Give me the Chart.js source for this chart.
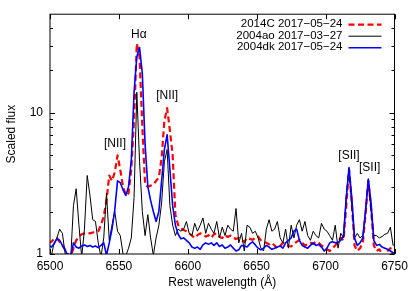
<!DOCTYPE html>
<html lang="en">
<head>
<meta charset="UTF-8">
<title>Scaled flux</title>
<script src="https://cdn.jsdelivr.net/npm/chart.js"></script>
<style>
  html, body { margin: 0; padding: 0; background: #fff; }
  canvas { display: block; }
</style>
</head>
<body>
<canvas id="spec" width="415" height="291"></canvas>
<script>
// rest wavelength grid (Angstrom)
const wavelength = [
  6499, 6501, 6503, 6505, 6507, 6509, 6511, 6513, 6515, 6517,
  6519, 6521, 6523, 6525, 6527, 6529, 6531, 6533, 6535, 6537,
  6539, 6541, 6543, 6545, 6547, 6549, 6551, 6553, 6555, 6557,
  6559, 6561, 6563, 6565, 6567, 6569, 6571, 6573, 6575, 6577,
  6579, 6581, 6583, 6585, 6587, 6589, 6591, 6593, 6595, 6597,
  6599, 6601, 6603, 6605, 6607, 6609, 6611, 6613, 6615, 6617,
  6619, 6621, 6623, 6625, 6627, 6629, 6631, 6633, 6635, 6637,
  6639, 6641, 6643, 6645, 6647, 6649, 6651, 6653, 6655, 6657,
  6659, 6661, 6663, 6665, 6667, 6669, 6671, 6673, 6675, 6677,
  6679, 6681, 6683, 6685, 6687, 6689, 6691, 6693, 6695, 6697,
  6699, 6701, 6703, 6705, 6707, 6709, 6711, 6713, 6715, 6717,
  6719, 6721, 6723, 6725, 6727, 6729, 6731, 6733, 6735, 6737,
  6739, 6741, 6743, 6745, 6747, 6749, 6751
];

// 2014C 2017-05-24
const flux2014C = [
  1.2, 1.22, 1.28, 1.3, 1.22, 1.15, 1.07, 1.0, 0.95, 1.1,
  1.25, 1.33, 1.38, 1.4, 1.41, 1.4, 1.42, 1.43, 1.45, 1.6,
  1.85, 2.4, 3.6, 3.3, 3.8, 5.0, 3.95, 3.0, 2.6, 2.7,
  4.0, 9.0, 31, 25, 8, 3.1, 3.0, 3.05, 3.1, 3.3,
  3.5, 4.8, 8.8, 10.8, 7.5, 5.0, 1.9, 1.6, 1.52, 1.48,
  1.45, 1.4, 1.35, 1.3, 1.36, 1.4, 1.38, 1.33, 1.36, 1.3,
  1.38, 1.4, 1.32, 1.3, 1.36, 1.32, 1.35, 1.3, 1.28, 1.3,
  1.25, 1.22, 1.3, 1.28, 1.26, 1.3, 1.33, 1.25, 1.22, 1.2,
  1.17, 1.2, 1.15, 1.1, 1.14, 1.2, 1.17, 1.14, 1.13, 1.18,
  1.22, 1.26, 1.2, 1.15, 1.17, 1.2, 1.18, 1.22, 1.2, 1.15,
  1.12, 1.08, 1.05, 1.1, 1.15, 1.22, 1.3, 1.25, 2.2, 4.0,
  2.3, 1.15, 1.05, 1.1, 1.2, 1.9, 3.3, 2.1, 1.15, 1.05,
  1.08, 1.0, 0.95, 1.05, 1.1, 0.95, 1.0
];

// 2004ao 2017-03-27
const flux2004ao = [
  1.1, 0.97, 1.2, 1.3, 1.5, 1.4, 1.0, 0.9, 0.92, 2.2,
  2.9, 1.6, 0.95, 1.5, 3.6, 2.6, 1.75, 1.7, 1.2, 0.95,
  1.3, 2.7, 1.25, 1.6, 2.0, 1.45, 1.35, 1.0, 0.97, 1.1,
  1.3, 2.5, 14, 4.5, 2.0, 1.35, 1.9, 1.3, 0.98, 1.3,
  1.6, 2.3, 4.5, 5.5, 2.2, 1.6, 1.35, 1.5, 1.45, 1.5,
  1.7, 1.4, 1.35, 1.65, 1.45, 1.6, 1.8, 1.4, 1.65, 1.5,
  1.4, 1.7, 1.3, 1.55, 1.35, 1.6, 1.5, 1.45, 2.1, 1.2,
  1.4, 1.05, 1.6, 1.55, 1.4, 1.45, 1.3, 1.1, 1.05, 1.5,
  1.75, 1.45, 1.5, 1.7, 1.3, 1.2, 1.5, 1.1, 1.6, 1.3,
  1.6, 1.75, 1.45, 1.7, 1.35, 1.25, 1.45, 1.35, 1.3, 1.65,
  1.5, 1.45, 1.35, 1.25, 1.6, 1.1, 1.4, 1.3, 2.6, 4.0,
  2.2, 1.3, 1.4, 1.3, 1.35, 2.0, 3.3, 2.0, 1.35, 1.35,
  1.3, 1.33, 1.38, 1.4, 1.55, 1.15, 1.2
];

// 2004dk 2017-05-24
const flux2004dk = [
  1.16, 1.12, 1.18, 1.28, 1.25, 1.15, 1.07, 0.97, 0.95, 1.2,
  1.12, 1.1, 1.14, 1.16, 1.13, 1.15, 1.12, 1.14, 1.11, 1.15,
  1.2, 0.98, 1.2, 1.5, 2.05, 3.3, 3.2, 2.85, 2.6, 3.0,
  4.6, 14, 25, 29, 19, 6, 3.0, 2.4, 2.0, 1.7,
  2.0, 3.3, 5.5, 7, 4.0, 2.2, 1.6, 1.38, 1.28, 1.3,
  1.25, 1.2, 1.12, 1.1, 1.12, 1.08, 1.16, 1.2, 1.17, 1.2,
  1.15, 1.2, 1.13, 1.16, 1.1, 1.12, 1.16, 1.1, 1.05, 1.07,
  1.15, 1.14, 1.12, 1.18, 1.22, 1.16, 1.1, 1.07, 1.1, 1.15,
  1.12, 1.08, 1.1, 1.12, 1.14, 1.1, 1.2, 1.25, 1.3, 1.45,
  1.5, 1.25, 1.15, 1.12, 1.1, 1.15, 1.2, 1.15, 1.17, 1.12,
  1.05, 1.1, 1.2, 1.22, 1.2, 1.21, 1.25, 1.35, 2.5, 4.1,
  2.5, 1.3, 1.15, 1.2, 1.3, 2.05, 3.4, 2.3, 1.25, 1.15,
  1.17, 1.12, 1.1, 1.08, 1.05, 1.02, 1.02
];

const xTicks = [6500, 6550, 6600, 6650, 6700, 6750];
const yMajorTicks = [1, 10];
const yMinorTicks = [2, 3, 4, 5, 6, 7, 8, 9, 20, 30, 40];

// line labels, placed in data coordinates (wavelength, flux)
const lineLabels = [
  { text: 'H\u03b1', x: 6564.5, y: 36 },
  { text: '[NII]', x: 6547.2, y: 6.0 },
  { text: '[NII]', x: 6585, y: 13.2 },
  { text: '[SII]', x: 6717, y: 4.95 },
  { text: '[SII]', x: 6732, y: 4.07 }
];

const FONT = 'Liberation Sans, Arial, Helvetica, sans-serif';

function pts(values) {
  return wavelength.map((w, i) => ({ x: w, y: values[i] }));
}

const series = [
  { label: '2014C 2017\u221205\u221224', data: pts(flux2014C), borderColor: '#ff0000', borderWidth: 2.2, borderDash: [6, 3.5], order: 2 },
  { label: '2004ao 2017\u221203\u221227', data: pts(flux2004ao), borderColor: '#000000', borderWidth: 1, borderDash: [], order: 1 },
  { label: '2004dk 2017\u221205\u221224', data: pts(flux2004dk), borderColor: '#0000ff', borderWidth: 1.6, borderDash: [], order: 0 }
];

// frame, inward ticks, key and line labels in gnuplot style
const decorations = {
  id: 'decorations',
  afterDatasetsDraw(chart) {
    const { ctx, chartArea: a, scales: { x, y } } = chart;
    ctx.save();
    ctx.strokeStyle = '#000';
    ctx.lineWidth = 1;
    ctx.beginPath();
    xTicks.forEach(v => {
      const px = Math.round(x.getPixelForValue(v)) + 0.5;
      ctx.moveTo(px, a.bottom); ctx.lineTo(px, a.bottom - 5);
      ctx.moveTo(px, a.top); ctx.lineTo(px, a.top + 5);
    });
    yMajorTicks.forEach(v => {
      const py = Math.round(y.getPixelForValue(v)) + 0.5;
      ctx.moveTo(a.left, py); ctx.lineTo(a.left + 5, py);
      ctx.moveTo(a.right, py); ctx.lineTo(a.right - 5, py);
    });
    yMinorTicks.forEach(v => {
      const py = Math.round(y.getPixelForValue(v)) + 0.5;
      ctx.moveTo(a.left, py); ctx.lineTo(a.left + 3, py);
      ctx.moveTo(a.right, py); ctx.lineTo(a.right - 3, py);
    });
    ctx.stroke();
    ctx.strokeRect(a.left, a.top, a.right - a.left, a.bottom - a.top);

    // line labels
    ctx.fillStyle = '#000';
    ctx.font = '12px ' + FONT;
    ctx.textAlign = 'center';
    ctx.textBaseline = 'middle';
    lineLabels.forEach(l => {
      ctx.fillText(l.text, x.getPixelForValue(l.x), y.getPixelForValue(l.y));
    });

    // key
    ctx.font = '11.5px ' + FONT;
    ctx.textAlign = 'right';
    chart.data.datasets.forEach((ds, i) => {
      const ty = a.top + 10 + i * 11.5;
      ctx.fillStyle = '#000';
      ctx.fillText(ds.label, a.right - 52, ty);
      ctx.beginPath();
      ctx.setLineDash(ds.borderDash);
      ctx.strokeStyle = ds.borderColor;
      ctx.lineWidth = ds.borderWidth;
      ctx.moveTo(a.right - 46, ty + 0.5);
      ctx.lineTo(a.right - 13, ty + 0.5);
      ctx.stroke();
    });
    ctx.restore();
  }
};

new Chart(document.getElementById('spec'), {
  type: 'line',
  data: { datasets: series },
  options: {
    responsive: false,
    animation: false,
    layout: { padding: { left: 0, right: 20.5, top: 13, bottom: 0 } },
    elements: {
      point: { radius: 0 },
      line: { tension: 0, borderJoinStyle: 'round', borderCapStyle: 'butt' }
    },
    datasets: { line: { clip: 0, fill: false } },
    plugins: { legend: { display: false }, tooltip: { enabled: false } },
    scales: {
      x: {
        type: 'linear',
        min: 6500,
        max: 6750,
        grid: { display: false, drawTicks: false },
        border: { display: false },
        afterBuildTicks: s => { s.ticks = xTicks.map(v => ({ value: v })); },
        afterFit: s => { s.height = 37; },
        ticks: {
          padding: 5,
          color: '#000',
          maxRotation: 0,
          autoSkip: false,
          font: { family: FONT, size: 12 },
          callback: v => String(v)
        },
        title: {
          display: true,
          text: 'Rest wavelength (\u00c5)',
          color: '#000',
          font: { family: FONT, size: 12 },
          padding: { top: 0, bottom: 1 }
        }
      },
      y: {
        type: 'logarithmic',
        min: 1,
        max: 50,
        grid: { display: false, drawTicks: false },
        border: { display: false },
        afterBuildTicks: s => { s.ticks = yMajorTicks.map(v => ({ value: v })); },
        afterFit: s => { s.width = 50; },
        ticks: {
          padding: 7,
          color: '#000',
          autoSkip: false,
          font: { family: FONT, size: 12 },
          callback: v => String(v)
        },
        title: {
          display: true,
          text: 'Scaled flux',
          color: '#000',
          font: { family: FONT, size: 12 },
          padding: { top: 4, bottom: 0 }
        }
      }
    }
  },
  plugins: [decorations]
});
</script>
</body>
</html>
